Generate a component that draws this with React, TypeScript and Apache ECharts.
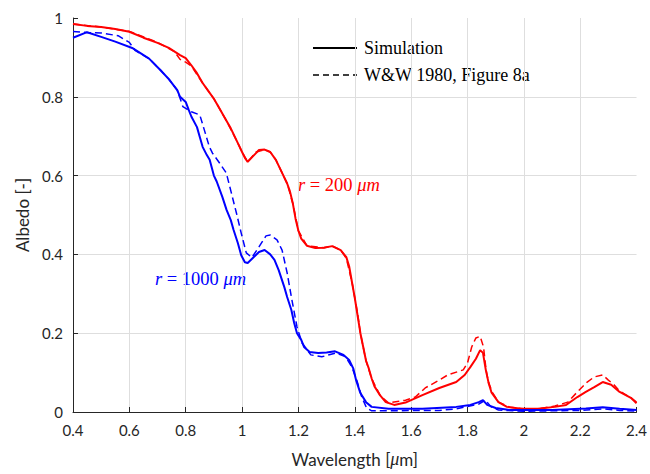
import React, { useEffect, useRef } from "react";
import * as echarts from "echarts";

// Wavelength [µm], albedo
const redSimulation: [number, number][] = [
  [0.40, 0.985], [0.45, 0.980], [0.50, 0.977], [0.55, 0.972], [0.60, 0.965], [0.65, 0.950],
  [0.70, 0.937], [0.74, 0.924], [0.78, 0.906], [0.80, 0.898], [0.82, 0.880], [0.84, 0.860],
  [0.86, 0.835], [0.88, 0.815], [0.90, 0.795], [0.92, 0.770], [0.94, 0.745], [0.96, 0.720],
  [0.98, 0.690], [1.00, 0.660], [1.01, 0.645], [1.02, 0.635], [1.04, 0.650], [1.06, 0.665],
  [1.08, 0.666], [1.10, 0.660], [1.12, 0.640], [1.14, 0.610], [1.16, 0.580], [1.17, 0.560],
  [1.18, 0.530], [1.19, 0.490], [1.20, 0.460], [1.21, 0.440], [1.23, 0.422], [1.26, 0.416],
  [1.29, 0.417], [1.32, 0.421], [1.35, 0.411], [1.37, 0.393], [1.38, 0.370], [1.39, 0.330],
  [1.40, 0.290], [1.41, 0.245], [1.42, 0.200], [1.43, 0.165], [1.44, 0.130], [1.45, 0.110],
  [1.46, 0.085], [1.47, 0.065], [1.49, 0.042], [1.51, 0.025], [1.54, 0.018], [1.58, 0.024],
  [1.64, 0.043], [1.70, 0.061], [1.76, 0.076], [1.79, 0.094], [1.81, 0.114], [1.83, 0.135],
  [1.845, 0.157], [1.855, 0.150], [1.865, 0.107], [1.875, 0.074], [1.885, 0.050], [1.91, 0.025],
  [1.94, 0.013], [1.99, 0.008], [2.05, 0.008], [2.11, 0.013], [2.15, 0.018], [2.17, 0.028],
  [2.19, 0.038], [2.22, 0.051], [2.25, 0.063], [2.28, 0.076], [2.31, 0.069], [2.34, 0.051],
  [2.38, 0.036], [2.40, 0.022],
];

const redWW1980: [number, number][] = [
  [0.40, 0.985], [0.50, 0.977], [0.60, 0.966], [0.70, 0.938], [0.76, 0.915], [0.78, 0.895],
  [0.80, 0.888], [0.82, 0.878], [0.86, 0.835], [0.90, 0.795], [0.94, 0.745], [0.98, 0.690],
  [1.00, 0.660], [1.02, 0.635], [1.05, 0.660], [1.08, 0.666], [1.10, 0.660], [1.12, 0.640],
  [1.16, 0.580], [1.18, 0.530], [1.20, 0.460], [1.23, 0.422], [1.29, 0.417], [1.32, 0.421],
  [1.35, 0.411], [1.37, 0.390], [1.39, 0.330], [1.41, 0.250], [1.42, 0.200], [1.44, 0.130],
  [1.46, 0.085], [1.49, 0.042], [1.52, 0.023], [1.58, 0.030], [1.615, 0.038], [1.65, 0.061],
  [1.70, 0.081], [1.73, 0.094], [1.785, 0.107], [1.80, 0.124], [1.815, 0.165], [1.83, 0.188],
  [1.845, 0.192], [1.857, 0.165], [1.866, 0.107], [1.875, 0.074], [1.89, 0.048], [1.91, 0.025],
  [1.95, 0.012], [2.00, 0.008], [2.05, 0.008], [2.11, 0.015], [2.156, 0.025], [2.19, 0.051],
  [2.225, 0.076], [2.25, 0.089], [2.28, 0.094], [2.30, 0.081], [2.32, 0.069], [2.34, 0.053],
  [2.38, 0.036], [2.40, 0.025],
];

const blueSimulation: [number, number][] = [
  [0.40, 0.950], [0.45, 0.964], [0.50, 0.952], [0.55, 0.940], [0.61, 0.924], [0.67, 0.897],
  [0.71, 0.868], [0.74, 0.845], [0.77, 0.817], [0.78, 0.800], [0.80, 0.787], [0.81, 0.768],
  [0.82, 0.750], [0.84, 0.723], [0.85, 0.698], [0.86, 0.673], [0.875, 0.652], [0.885, 0.640],
  [0.90, 0.600], [0.91, 0.585], [0.93, 0.546], [0.945, 0.513], [0.96, 0.487], [0.97, 0.462],
  [0.985, 0.429], [0.997, 0.398], [1.01, 0.380], [1.02, 0.378], [1.04, 0.392], [1.06, 0.406],
  [1.08, 0.411], [1.10, 0.400], [1.115, 0.386], [1.13, 0.360], [1.15, 0.317], [1.16, 0.292],
  [1.175, 0.259], [1.185, 0.226], [1.195, 0.200], [1.21, 0.183], [1.22, 0.165], [1.24, 0.152],
  [1.27, 0.150], [1.30, 0.151], [1.33, 0.154], [1.36, 0.145], [1.38, 0.132], [1.395, 0.110],
  [1.405, 0.080], [1.42, 0.048], [1.44, 0.025], [1.46, 0.013], [1.52, 0.008], [1.64, 0.008],
  [1.76, 0.013], [1.81, 0.018], [1.84, 0.025], [1.855, 0.030], [1.87, 0.018], [1.90, 0.010],
  [1.95, 0.005], [2.10, 0.005], [2.22, 0.009], [2.28, 0.012], [2.34, 0.008], [2.40, 0.005],
];

const blueWW1980: [number, number][] = [
  [0.40, 0.966], [0.45, 0.963], [0.50, 0.962], [0.56, 0.955], [0.60, 0.938], [0.62, 0.918],
  [0.67, 0.897], [0.71, 0.868], [0.74, 0.845], [0.77, 0.817], [0.79, 0.775], [0.82, 0.762],
  [0.85, 0.754], [0.866, 0.716], [0.884, 0.673], [0.895, 0.657], [0.92, 0.632], [0.944, 0.607],
  [0.962, 0.556], [0.98, 0.505], [0.997, 0.454], [1.015, 0.404], [1.035, 0.392], [1.06, 0.419],
  [1.085, 0.447], [1.10, 0.449], [1.124, 0.437], [1.142, 0.411], [1.16, 0.353], [1.177, 0.284],
  [1.195, 0.216], [1.213, 0.175], [1.244, 0.145], [1.283, 0.140], [1.333, 0.150], [1.368, 0.140],
  [1.39, 0.114], [1.407, 0.081], [1.425, 0.038], [1.442, 0.010], [1.46, 0.003], [1.70, 0.004],
  [1.76, 0.008], [1.84, 0.020], [1.863, 0.030], [1.884, 0.013], [1.91, 0.005], [2.00, 0.002],
  [2.20, 0.004], [2.28, 0.008], [2.34, 0.004], [2.40, 0.002],
];

const legendLabels = ["Simulation", "W&W 1980, Figure 8a"];

const RED = "#ff0000";
const BLUE = "#0000ff";
const AXIS = "#262626";
const TICK_FONT = "Lato, 'Open Sans', sans-serif";
const SERIF = "'Liberation Serif', 'DejaVu Serif', serif";

export default function App() {
  const ref = useRef<HTMLDivElement>(null);

  useEffect(() => {
    if (!ref.current) return;
    const chart = echarts.init(ref.current, undefined, { renderer: "svg" });

    const axisCommon = {
      type: "value" as const,
      axisLine: { show: true, lineStyle: { color: AXIS, width: 1 } },
      axisTick: { show: true, inside: true, length: 5, lineStyle: { color: AXIS } },
      axisLabel: { color: AXIS, fontFamily: TICK_FONT, fontSize: 15 },
      splitLine: {
        show: true,
        showMinLine: false,
        showMaxLine: false,
        lineStyle: { color: "#dedede", width: 1 },
      },
    };

    chart.setOption({
      animation: false,
      backgroundColor: "#ffffff",
      grid: { left: 73, right: 11, top: 18, bottom: 62, containLabel: false },
      xAxis: {
        ...axisCommon,
        min: 0.4,
        max: 2.4,
        interval: 0.2,
        axisLabel: { ...axisCommon.axisLabel, margin: 10 },
        name: "Wavelength [{m|μ}m]",
        nameLocation: "middle",
        nameGap: 38,
        nameTextStyle: {
          color: AXIS,
          fontFamily: TICK_FONT,
          fontSize: 17,
          rich: {
            m: { fontFamily: SERIF, fontStyle: "italic", fontSize: 18, color: AXIS },
          },
        },
      },
      yAxis: {
        ...axisCommon,
        min: 0,
        max: 1,
        interval: 0.2,
        axisLabel: { ...axisCommon.axisLabel, margin: 10 },
        name: "Albedo [-]",
        nameLocation: "middle",
        nameRotate: 90,
        nameGap: 42,
        nameTextStyle: { color: AXIS, fontFamily: TICK_FONT, fontSize: 17 },
      },
      series: [
        {
          name: "r200 simulation",
          type: "line",
          data: redSimulation,
          showSymbol: false,
          lineStyle: { color: RED, width: 2 },
          z: 3,
        },
        {
          name: "r200 W&W",
          type: "line",
          data: redWW1980,
          showSymbol: false,
          lineStyle: { color: RED, width: 1.5, type: [7, 4] },
          z: 2,
        },
        {
          name: "r1000 simulation",
          type: "line",
          data: blueSimulation,
          showSymbol: false,
          lineStyle: { color: BLUE, width: 2 },
          z: 3,
        },
        {
          name: "r1000 W&W",
          type: "line",
          data: blueWW1980,
          showSymbol: false,
          lineStyle: { color: BLUE, width: 1.5, type: [7, 4] },
          z: 2,
        },
      ],
      graphic: [
        {
          type: "line",
          shape: { x1: 313, y1: 48, x2: 357, y2: 48 },
          style: { stroke: "#000000", lineWidth: 2 },
        },
        {
          type: "line",
          shape: { x1: 313, y1: 75, x2: 357, y2: 75 },
          style: { stroke: "#000000", lineWidth: 1.5, lineDash: [6, 4] },
        },
        {
          type: "text",
          x: 364,
          y: 48,
          style: {
            text: legendLabels[0],
            font: `18px ${SERIF}`,
            fill: "#000000",
            verticalAlign: "middle",
          },
        },
        {
          type: "text",
          x: 364,
          y: 75,
          style: {
            text: legendLabels[1],
            font: `18px ${SERIF}`,
            fill: "#000000",
            verticalAlign: "middle",
          },
        },
        {
          type: "text",
          x: 298,
          y: 185,
          style: {
            text: "{i|r} = 200 {i|μm}",
            fill: RED,
            font: `18.5px ${SERIF}`,
            verticalAlign: "middle",
            rich: {
              i: { fontFamily: SERIF, fontStyle: "italic", fontSize: 18.5, fill: RED },
            },
          },
        },
        {
          type: "text",
          x: 155,
          y: 279,
          style: {
            text: "{i|r} = 1000 {i|μm}",
            fill: BLUE,
            font: `18.5px ${SERIF}`,
            verticalAlign: "middle",
            rich: {
              i: { fontFamily: SERIF, fontStyle: "italic", fontSize: 18.5, fill: BLUE },
            },
          },
        },
      ],
    });

    return () => chart.dispose();
  }, []);

  return (
    <div
      ref={ref}
      style={{ position: "absolute", left: 0, top: 0, width: 650, height: 474 }}
    />
  );
}
